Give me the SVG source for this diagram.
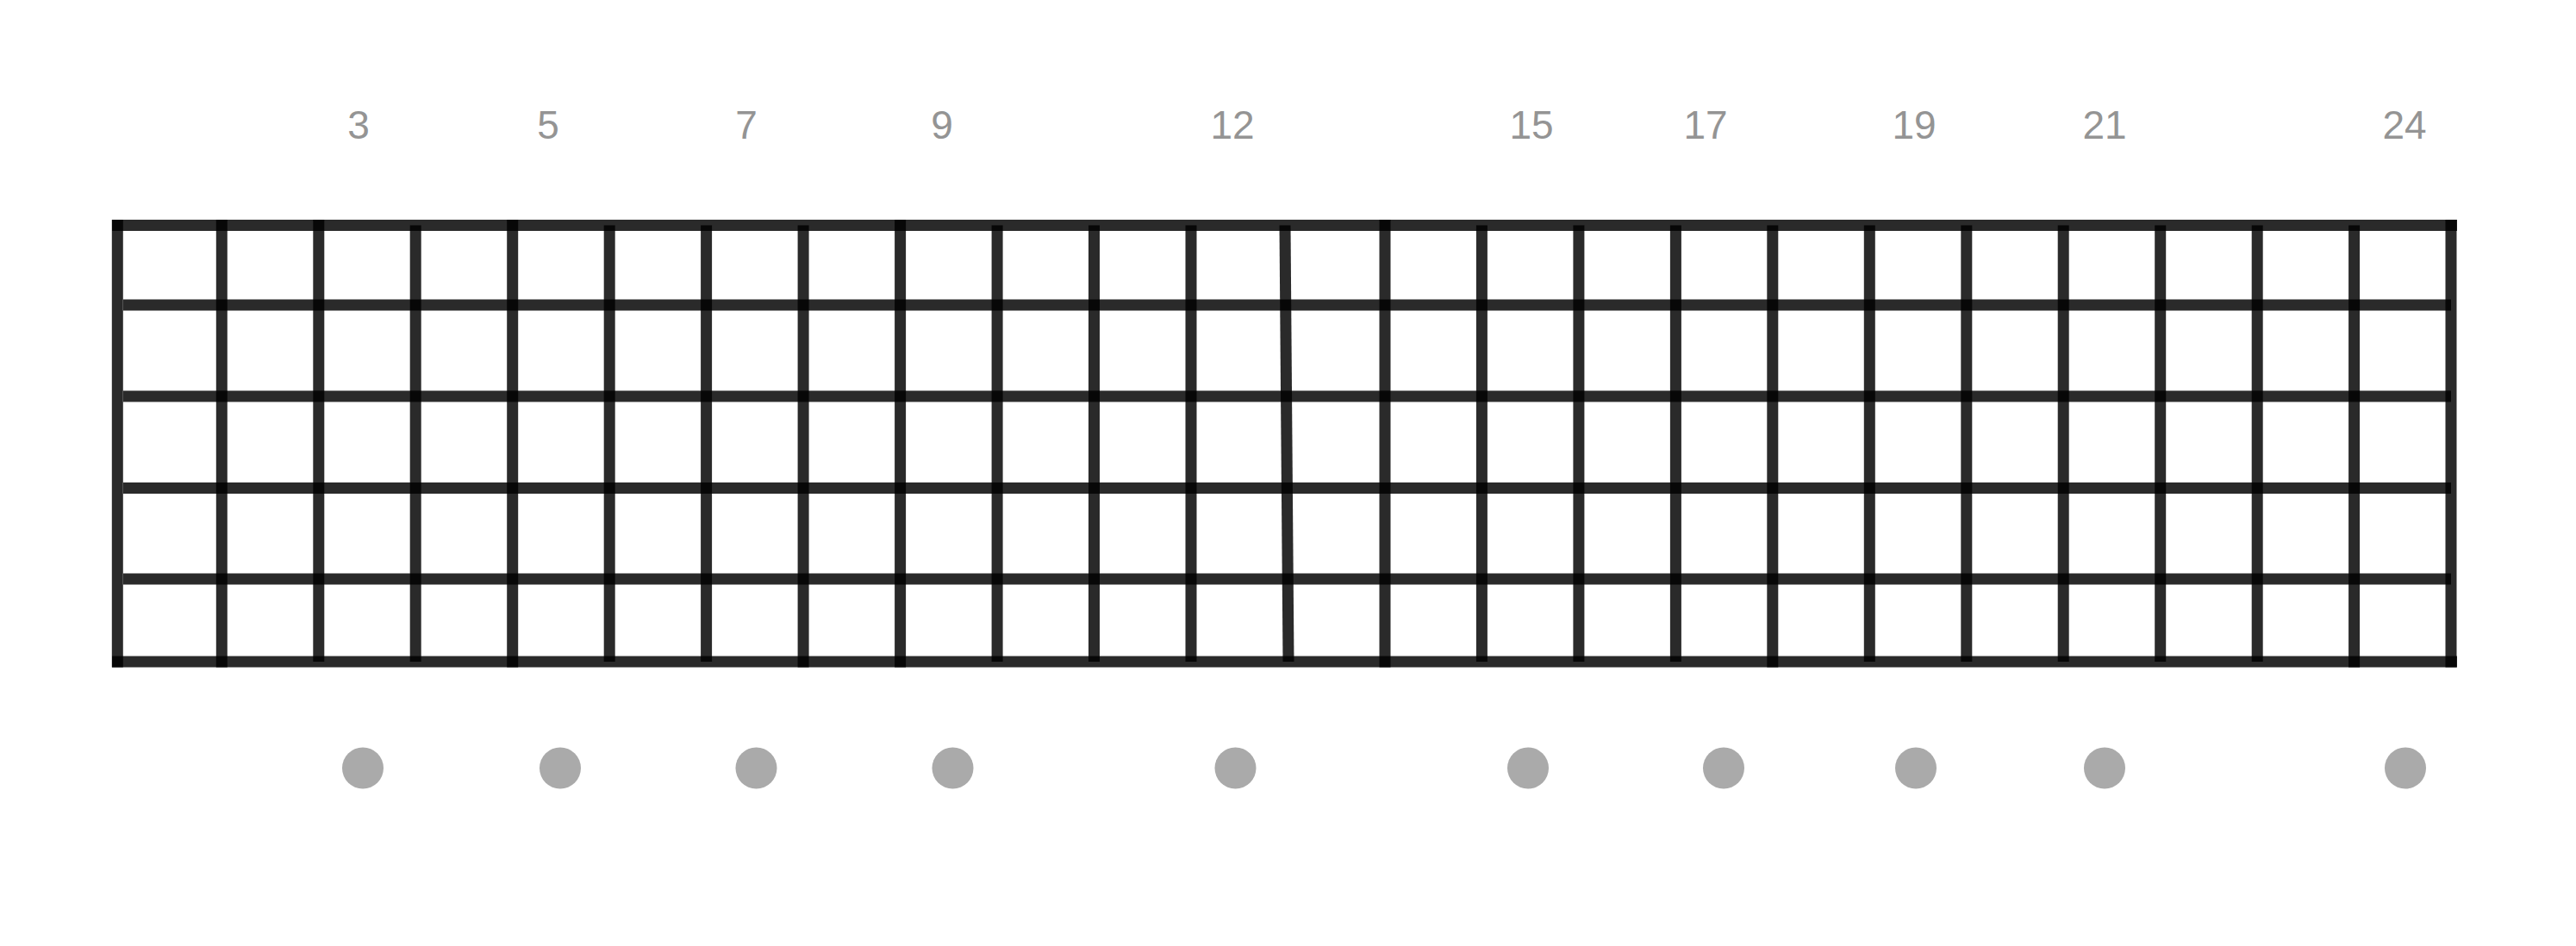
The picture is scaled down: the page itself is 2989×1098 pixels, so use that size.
<svg xmlns="http://www.w3.org/2000/svg" width="2989" height="1098" viewBox="0 0 2989 1098">
<style>
.ln{stroke:#000;stroke-opacity:0.835;stroke-width:13;stroke-linecap:butt;fill:none}
.lbl{font-family:"Liberation Sans",Arial,sans-serif;font-size:46px;fill:#949494;text-anchor:middle}
.dot{fill:#aaaaaa}
</style>
<rect x="0" y="0" width="2989" height="1098" fill="#ffffff"/>
<g id="fretboard">
<g id="strings">
<line class="ln" x1="130" y1="261.5" x2="2851" y2="261.5"/>
<line class="ln" x1="143" y1="354" x2="2844" y2="354"/>
<line class="ln" x1="143" y1="460" x2="2844" y2="460"/>
<line class="ln" x1="143" y1="566.5" x2="2844" y2="566.5"/>
<line class="ln" x1="143" y1="672" x2="2844" y2="672"/>
<line class="ln" x1="130" y1="768" x2="2851" y2="768"/>
</g>
<g id="frets">
<line class="ln" x1="136.3" y1="255" x2="136.3" y2="774.5"/>
<line class="ln" x1="257.3" y1="255" x2="257.3" y2="774.5"/>
<line class="ln" x1="369.8" y1="255" x2="369.8" y2="768"/>
<line class="ln" x1="482.2" y1="261.5" x2="482.2" y2="768"/>
<line class="ln" x1="594.7" y1="255" x2="594.7" y2="774.5"/>
<line class="ln" x1="707.2" y1="261.5" x2="707.2" y2="768"/>
<line class="ln" x1="819.6" y1="261.5" x2="819.6" y2="768"/>
<line class="ln" x1="932.1" y1="261.5" x2="932.1" y2="774.5"/>
<line class="ln" x1="1044.6" y1="255" x2="1044.6" y2="774.5"/>
<line class="ln" x1="1157.1" y1="261.5" x2="1157.1" y2="768"/>
<line class="ln" x1="1269.5" y1="261.5" x2="1269.5" y2="768"/>
<line class="ln" x1="1382" y1="261.5" x2="1382" y2="768"/>
<line class="ln" x1="1491" y1="261.5" x2="1495" y2="768"/>
<line class="ln" x1="1607" y1="255" x2="1607" y2="774.5"/>
<line class="ln" x1="1719.4" y1="261.5" x2="1719.4" y2="768"/>
<line class="ln" x1="1831.9" y1="261.5" x2="1831.9" y2="768"/>
<line class="ln" x1="1944.4" y1="261.5" x2="1944.4" y2="768"/>
<line class="ln" x1="2056.8" y1="261.5" x2="2056.8" y2="774.5"/>
<line class="ln" x1="2169.3" y1="261.5" x2="2169.3" y2="768"/>
<line class="ln" x1="2281.8" y1="261.5" x2="2281.8" y2="768"/>
<line class="ln" x1="2394.2" y1="261.5" x2="2394.2" y2="768"/>
<line class="ln" x1="2506.7" y1="261.5" x2="2506.7" y2="768"/>
<line class="ln" x1="2619.2" y1="261.5" x2="2619.2" y2="768"/>
<line class="ln" x1="2731.6" y1="261.5" x2="2731.6" y2="774.5"/>
<line class="ln" x1="2844" y1="255" x2="2844" y2="774.5"/>
</g>
</g>
<g id="labels">
<text class="lbl" x="416" y="161">3</text>
<text class="lbl" x="636" y="161">5</text>
<text class="lbl" x="866" y="161">7</text>
<text class="lbl" x="1093" y="161">9</text>
<text class="lbl" x="1430" y="161">12</text>
<text class="lbl" x="1777" y="161">15</text>
<text class="lbl" x="1979" y="161">17</text>
<text class="lbl" x="2221" y="161">19</text>
<text class="lbl" x="2442" y="161">21</text>
<text class="lbl" x="2790" y="161">24</text>
</g>
<g id="markers">
<circle class="dot" cx="421" cy="891.5" r="24"/>
<circle class="dot" cx="650" cy="891.5" r="24"/>
<circle class="dot" cx="877.5" cy="891.5" r="24"/>
<circle class="dot" cx="1105.5" cy="891.5" r="24"/>
<circle class="dot" cx="1433.5" cy="891.5" r="24"/>
<circle class="dot" cx="1773" cy="891.5" r="24"/>
<circle class="dot" cx="2000" cy="891.5" r="24"/>
<circle class="dot" cx="2223" cy="891.5" r="24"/>
<circle class="dot" cx="2442" cy="891.5" r="24"/>
<circle class="dot" cx="2791" cy="891.5" r="24"/>
</g>
</svg>
